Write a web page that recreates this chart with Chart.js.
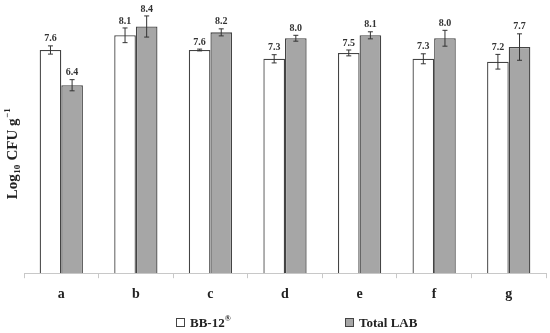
<!DOCTYPE html>
<html>
<head>
<meta charset="utf-8">
<script src="https://cdn.jsdelivr.net/npm/chart.js@4.4.1/dist/chart.umd.min.js"></script>
<style>
  body { margin: 0; background: #fff; }
  #wrap { width: 550px; height: 333px; }
</style>
</head>
<body>
<div id="wrap"><canvas id="canvas-1"></canvas></div>
<script>
const categories = ["a", "b", "c", "d", "e", "f", "g"];
const bb12 = [7.6, 8.1, 7.6, 7.3, 7.5, 7.3, 7.2];
const bb12Err = [0.14, 0.25, 0.03, 0.14, 0.1, 0.17, 0.25];
const totalLab = [6.4, 8.4, 8.2, 8.0, 8.1, 8.0, 7.7];
const totalLabErr = [0.19, 0.36, 0.12, 0.1, 0.12, 0.27, 0.45];
const seriesNames = ["BB-12", "Total LAB"];

const serif = "'Liberation Serif', 'DejaVu Serif', serif";
const errs = [bb12Err, totalLabErr];

// error bars + value labels on top of each bar
const errorBars = {
  id: "errorBars",
  afterDatasetsDraw(chart) {
    const ctx = chart.ctx;
    const y = chart.scales.y;
    ctx.save();
    chart.data.datasets.forEach((ds, di) => {
      const meta = chart.getDatasetMeta(di);
      meta.data.forEach((bar, i) => {
        const v = ds.data[i];
        const e = errs[di][i];
        const top = y.getPixelForValue(v + e);
        const bot = y.getPixelForValue(v - e);
        ctx.strokeStyle = "#333";
        ctx.lineWidth = 1;
        ctx.beginPath();
        ctx.moveTo(bar.x, top);
        ctx.lineTo(bar.x, bot);
        ctx.moveTo(bar.x - 2.5, top);
        ctx.lineTo(bar.x + 2.5, top);
        ctx.moveTo(bar.x - 2.5, bot);
        ctx.lineTo(bar.x + 2.5, bot);
        ctx.stroke();
        ctx.fillStyle = "#333";
        ctx.font = "bold 10px " + serif;
        ctx.textAlign = "center";
        ctx.textBaseline = "bottom";
        ctx.fillText(v.toFixed(1), bar.x, top - 2);
      });
    });
    ctx.restore();
  },
  afterDraw(chart) {
    const ctx = chart.ctx;
    ctx.save();
    // y axis title with sub/superscript
    ctx.translate(17, 155);
    ctx.rotate(-Math.PI / 2);
    ctx.fillStyle = "#222";
    ctx.textBaseline = "alphabetic";
    const parts = [
      ["Log", 15, 0],
      ["10", 9, 3],
      [" CFU g", 15, 0],
      ["\u22121", 9, -7],
    ];
    let w = 0;
    parts.forEach(p => { ctx.font = "bold " + p[1] + "px " + serif; w += ctx.measureText(p[0]).width; });
    let x = -w / 2;
    parts.forEach(p => {
      ctx.font = "bold " + p[1] + "px " + serif;
      ctx.fillText(p[0], x + 0.5, p[2]);
      x += ctx.measureText(p[0]).width + 0.5;
    });
    ctx.restore();

    // legend
    ctx.save();
    const items = [
      { x: 176, fill: "#ffffff", sup: "\u00ae" },
      { x: 345, fill: "#a6a6a6", sup: "" },
    ];
    items.forEach((it, i) => {
      ctx.fillStyle = it.fill;
      ctx.strokeStyle = "#444";
      ctx.lineWidth = 1;
      ctx.fillRect(it.x, 318, 9, 9);
      ctx.strokeRect(it.x + 0.5, 318.5, 8, 8);
      ctx.fillStyle = "#222";
      ctx.font = "bold 13px " + serif;
      ctx.textBaseline = "alphabetic";
      ctx.textAlign = "left";
      ctx.fillText(seriesNames[i], it.x + 14, 327);
      if (it.sup) {
        const tw = ctx.measureText(seriesNames[i]).width;
        ctx.font = "bold 8px " + serif;
        ctx.fillText(it.sup, it.x + 14 + tw, 321);
      }
    });
    ctx.restore();
  },
};

const canvas1 = document.querySelector("#canvas-1");
const ctx1 = canvas1.getContext("2d");

const barChart = new Chart(ctx1, {
  type: "bar",
  data: {
    labels: categories,
    datasets: [
      {
        label: seriesNames[0],
        data: bb12,
        backgroundColor: "#ffffff",
        borderColor: "#444",
        borderWidth: 1.3,
        categoryPercentage: 0.58,
        barPercentage: 1,
      },
      {
        label: seriesNames[1],
        data: totalLab,
        backgroundColor: "#a6a6a6",
        borderColor: "#444",
        borderWidth: 1.3,
        categoryPercentage: 0.58,
        barPercentage: 1,
      },
    ],
  },
  options: {
    responsive: true,
    maintainAspectRatio: false,
    animation: false,
    layout: { padding: { left: 24, right: 4, top: 3, bottom: 22 } },
    plugins: {
      legend: { display: false },
      tooltip: { enabled: false },
    },
    scales: {
      x: {
        grid: { drawOnChartArea: false, drawTicks: true, tickLength: 5, color: "#c8c8c8" },
        border: { color: "#c8c8c8" },
        ticks: { color: "#222", font: { family: serif, size: 14, weight: "bold" }, padding: 8 },
      },
      y: {
        display: false,
        min: 0,
        max: 9.2,
      },
    },
  },
  plugins: [errorBars],
});
</script>
</body>
</html>
